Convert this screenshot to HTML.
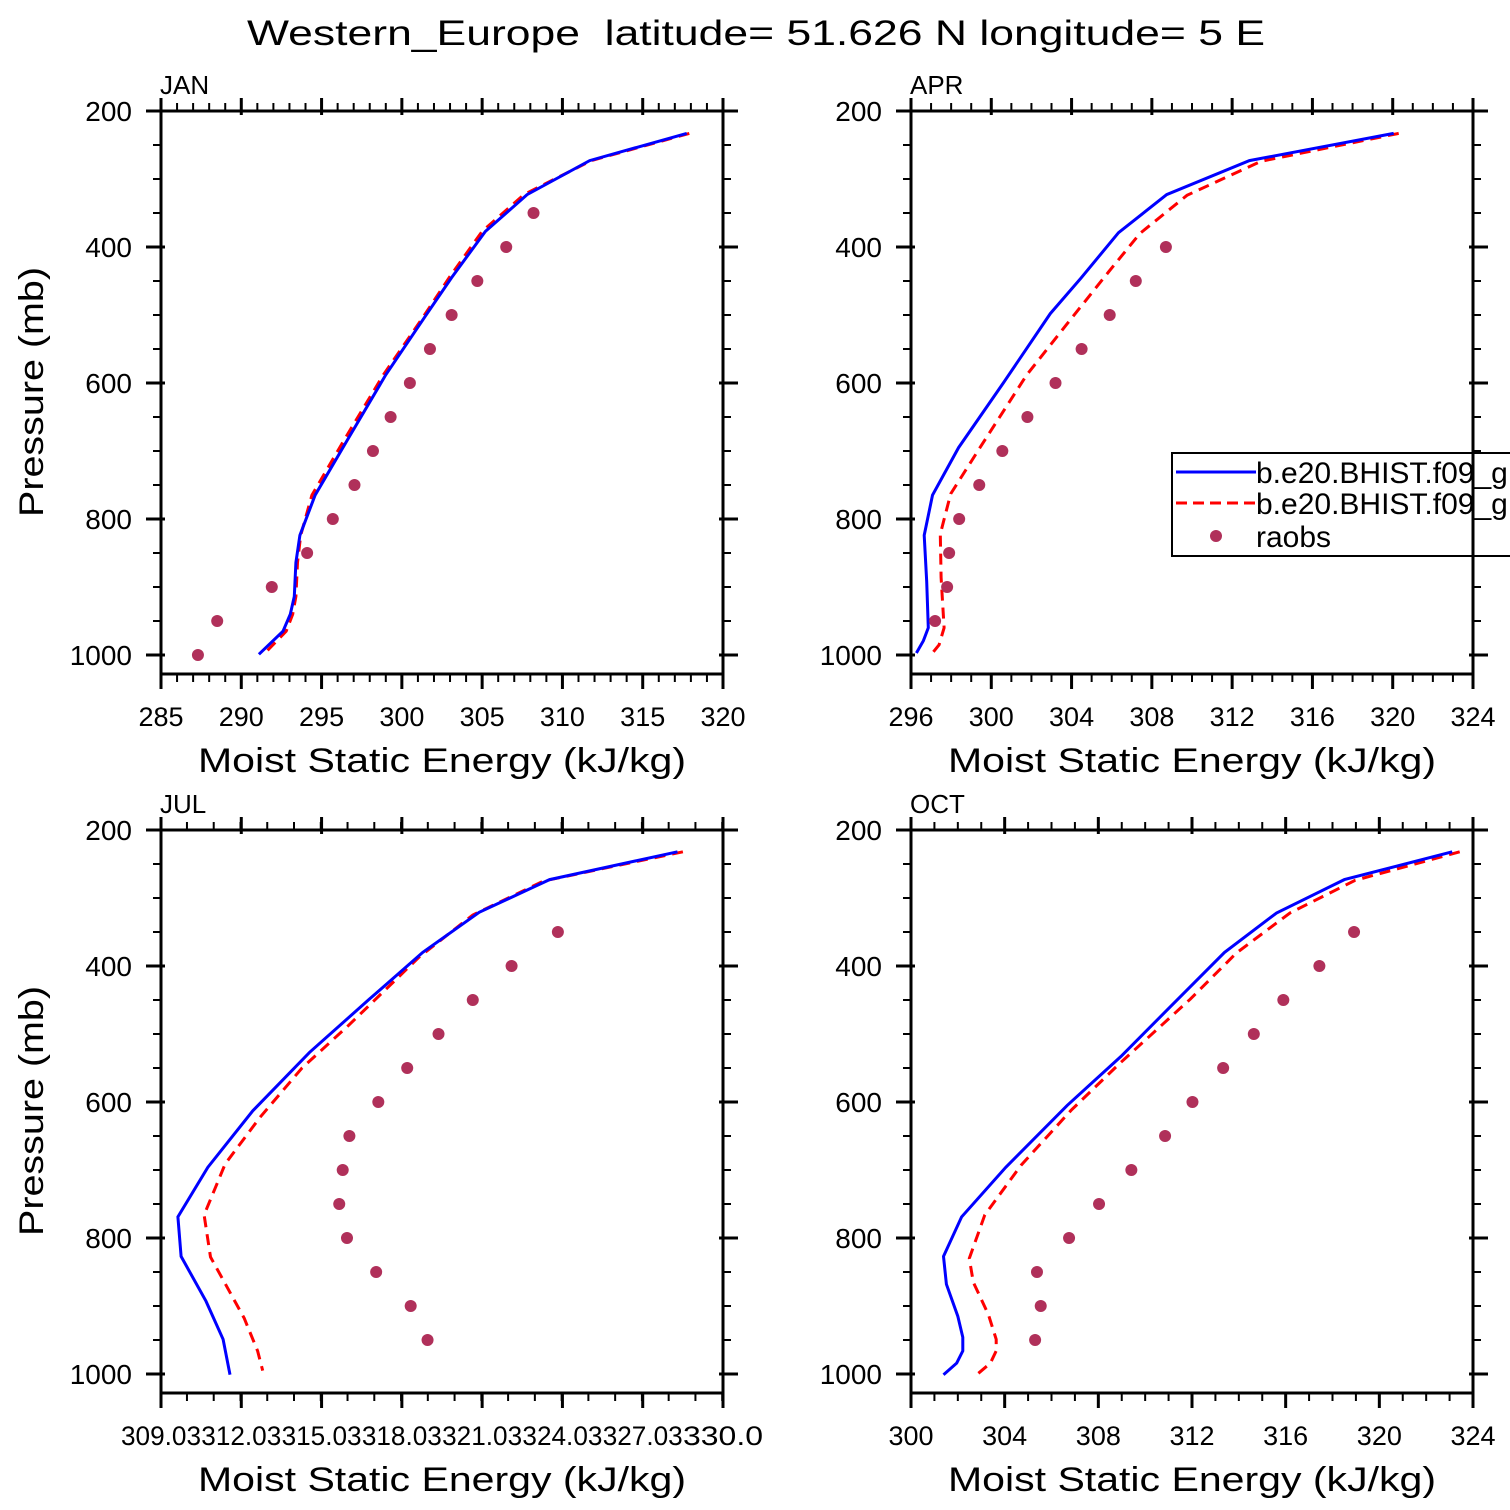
<!DOCTYPE html>
<html><head><meta charset="utf-8"><style>
html,body{margin:0;padding:0;background:#fff;}
svg{display:block;}
text{font-family:"Liberation Sans",sans-serif;fill:#000;}
</style></head>
<body>
<svg id="chart" width="1510" height="1510" viewBox="0 0 1510 1510" xmlns="http://www.w3.org/2000/svg">
<rect width="1510" height="1510" fill="#fff"/>
<text x="756" y="45" font-size="35" text-anchor="middle" textLength="1018" lengthAdjust="spacingAndGlyphs" xml:space="preserve">Western_Europe  latitude= 51.626 N longitude= 5 E</text>
</svg>
<script>
// ---- data ----
const obsP = [350,400,450,500,550,600,650,700,750,800,850,900,950,1000];
const janModelP = [233,273,323,377,445,504,588,684,765,824,864,914,940,965,999];
const janBlue = [317.74,311.7,307.8,305.2,303.1,301.4,299.0,296.6,294.6,293.65,293.4,293.3,293.05,292.6,291.1];
const janRed  = [317.9,311.8,307.6,305.0,302.95,301.3,298.85,296.4,294.4,293.7,293.5,293.4,293.2,292.8,291.4];
const janObs  = [308.2,306.5,304.7,303.1,301.75,300.5,299.3,298.2,297.05,295.7,294.1,291.9,288.5,287.3];

const aprBlueP = [233,273,323,379,446,498,600,695,765,824,892,960,979,997];
const aprBlue  = [320.05,312.86,308.74,306.34,304.46,302.94,300.6,298.37,297.07,296.66,296.78,296.86,296.62,296.27];
const aprRedP  = [233,274,324,380,436,515,588,695,763,822,886,960,985,997];
const aprRed   = [320.3,313.44,309.75,307.41,305.86,303.72,301.77,299.44,297.98,297.46,297.5,297.65,297.4,297.07];
const aprObsP  = [400,450,500,550,600,650,700,750,800,850,900,950];
const aprObs   = [308.7,307.2,305.9,304.5,303.2,301.8,300.55,299.4,298.4,297.9,297.8,297.2];

const julBlueP = [232,273,321,380,449,527,613,696,769,827,893,949,1001];
const julBlue  = [328.33,323.55,320.92,318.81,316.81,314.58,312.46,310.78,309.66,309.78,310.71,311.35,311.61];
const julRedP  = [232,275,325,387,488,550,623,691,766,828,918,966,995];
const julRed   = [328.53,323.33,320.68,318.67,316.02,314.3,312.72,311.43,310.64,310.88,312.14,312.64,312.83];
const julObsP  = [350,400,450,500,550,600,650,700,750,800,850,900,950];
const julObs   = [323.86,322.13,320.68,319.4,318.23,317.15,316.07,315.82,315.69,315.98,317.07,318.36,318.99];

const octBlueP = [232,273,322,380,465,533,605,696,769,827,868,915,946,966,984,1001];
const octBlue  = [323.11,318.51,315.61,313.39,310.93,308.97,306.67,304.05,302.16,301.39,301.51,302.0,302.21,302.21,301.95,301.39];
const octRedP  = [232,274,322,381,449,544,612,693,766,830,865,913,949,966,984,1003];
const octRed   = [323.43,318.97,316.18,313.89,311.92,308.89,306.84,304.7,303.15,302.49,302.66,303.31,303.64,303.64,303.39,302.74];
const octObsP  = [350,400,450,500,550,600,650,700,750,800,850,900,950];
const octObs   = [318.92,317.44,315.9,314.64,313.33,312.02,310.85,309.41,308.03,306.75,305.38,305.54,305.3];

const janTicks = [285,290,295,300,305,310,315,320];
const aprTicks = [296,300,304,308,312,316,320,324];
const julTicks = [309.03,312.03,315.03,318.03,321.03,324.03,327.03,330.03];
const julTickLabels = ["309.03","312.03","315.03","318.03","321.03","324.03","327.03","330.0"];
const octTicks = [300,304,308,312,316,320,324];
const pTicks = [200,400,600,800,1000];

// ---- drawing ----
const NS = "http://www.w3.org/2000/svg";
const svg = document.getElementById("chart");
function mk(tag, attrs, parent){
  const e = document.createElementNS(NS, tag);
  for (const k in attrs) e.setAttribute(k, attrs[k]);
  (parent||svg).appendChild(e);
  return e;
}
function panel(cfg){
  const L=cfg.left, T=cfg.top, R=L+562, B=T+563;
  const g = mk("g", {});
  
  
  const xs = v => L + (v-cfg.xmin)/(cfg.xmax-cfg.xmin)*562;
  const ys = p => T + (p-200)*0.68;
  for (let v=Math.ceil(cfg.xmin); v<=cfg.xmax+1e-6; v+=1){
    const x=xs(v);
    mk("line",{x1:x,x2:x,y1:T,y2:T-8,stroke:"#000","stroke-width":2},g);
    mk("line",{x1:x,x2:x,y1:B,y2:B+8,stroke:"#000","stroke-width":2},g);
  }
  cfg.ticks.forEach((v,i)=>{
    const x=xs(v);
    mk("line",{x1:x,x2:x,y1:T+4,y2:T-13,stroke:"#000","stroke-width":3},g);
    mk("line",{x1:x,x2:x,y1:B,y2:B+15,stroke:"#000","stroke-width":3},g);
    const a={x:x,y:B+52,"font-size":27,"text-anchor":"middle"};
    if (cfg.labels){ a.textLength=80; a.lengthAdjust="spacingAndGlyphs"; }
    const t=mk("text",a,g);
    
    
    t.textContent = cfg.labels ? cfg.labels[i] : String(v);
  });
  for (let p=250;p<=1000;p+=50){
    const y=ys(p);
    mk("line",{x1:L,x2:L-8,y1:y,y2:y,stroke:"#000","stroke-width":2},g);
    mk("line",{x1:R,x2:R+8,y1:y,y2:y,stroke:"#000","stroke-width":2},g);
  }
  pTicks.forEach(p=>{
    const y=ys(p);
    mk("line",{x1:L+4,x2:L-15,y1:y,y2:y,stroke:"#000","stroke-width":3},g);
    mk("line",{x1:R-4,x2:R+15,y1:y,y2:y,stroke:"#000","stroke-width":3},g);
    const t=mk("text",{x:L-29,y:y+10,"font-size":28,"text-anchor":"end"},g);
    
    
    t.textContent=String(p);
  });
  const cp = mk("clipPath",{id:cfg.name+"-clip"},g);
  mk("rect",{x:L,y:T,width:562,height:563},cp);
  const pts = (vals,ps)=>vals.map((v,i)=>xs(v).toFixed(1)+","+ys(ps[i]).toFixed(1)).join(" ");
  const red = mk("polyline",{points:pts(cfg.red,cfg.redP),fill:"none",stroke:"#ff0000","stroke-width":3,"stroke-dasharray":"11,7","clip-path":"url(#"+cfg.name+"-clip)"},g);
  
  
  const blue = mk("polyline",{points:pts(cfg.blue,cfg.blueP),fill:"none",stroke:"#0000ff","stroke-width":3,"clip-path":"url(#"+cfg.name+"-clip)"},g);
  
  
  cfg.obs.forEach((v,i)=>{
    const c=mk("circle",{cx:xs(v),cy:ys(cfg.obsP[i]),r:6,fill:"#b0305a"},g);
    
    
  });
  const fr = mk("rect",{x:L,y:T,width:562,height:563,fill:"none",stroke:"#000","stroke-width":3},g);
  
  
  const lab=mk("text",{x:L-1,y:T-17,"font-size":26},g);
  
  
  lab.textContent=cfg.title;
  const xt=mk("text",{x:L+281,y:B+98,"font-size":34,"text-anchor":"middle",textLength:488,lengthAdjust:"spacingAndGlyphs"},g);
  
  
  xt.textContent="Moist Static Energy (kJ/kg)";
  if (L<500){
    const yt=mk("text",{x:0,y:0,"font-size":34,"text-anchor":"middle",textLength:250,lengthAdjust:"spacingAndGlyphs",transform:"translate(43,"+(T+281)+") rotate(-90)"},g);
    
    
    yt.textContent="Pressure (mb)";
  }
}
panel({name:"jan",title:"JAN",left:161,top:111,xmin:285,xmax:320,ticks:janTicks,blue:janBlue,blueP:janModelP,red:janRed,redP:janModelP,obs:janObs,obsP:obsP});
panel({name:"apr",title:"APR",left:911,top:111,xmin:296,xmax:324,ticks:aprTicks,blue:aprBlue,blueP:aprBlueP,red:aprRed,redP:aprRedP,obs:aprObs,obsP:aprObsP});
panel({name:"jul",title:"JUL",left:161,top:830,xmin:309.03,xmax:330.03,ticks:julTicks,labels:julTickLabels,blue:julBlue,blueP:julBlueP,red:julRed,redP:julRedP,obs:julObs,obsP:julObsP});
panel({name:"oct",title:"OCT",left:911,top:830,xmin:300,xmax:324,ticks:octTicks,blue:octBlue,blueP:octBlueP,red:octRed,redP:octRedP,obs:octObs,obsP:octObsP});

// legend
const lg = mk("g",{});


mk("rect",{x:1172,y:453,width:360,height:103,fill:"#fff",stroke:"#000","stroke-width":2},lg);
mk("line",{x1:1176,x2:1256,y1:472,y2:472,stroke:"#0000ff","stroke-width":3},lg);
mk("line",{x1:1176,x2:1256,y1:503,y2:503,stroke:"#ff0000","stroke-width":3,"stroke-dasharray":"11,6"},lg);
mk("circle",{cx:1216,cy:536,r:6,fill:"#b0305a"},lg);
const l1=mk("text",{x:1256,y:483,"font-size":30},lg);


l1.textContent="b.e20.BHIST.f09_g16.001";
const l2=mk("text",{x:1256,y:514,"font-size":30},lg);


l2.textContent="b.e20.BHIST.f09_g16.002";
const l3=mk("text",{x:1256,y:547,"font-size":30},lg);


l3.textContent="raobs";
mk("line",{x1:1473,x2:1473,y1:111,y2:674,stroke:"#000","stroke-width":3},lg);
</script>
</body></html>
